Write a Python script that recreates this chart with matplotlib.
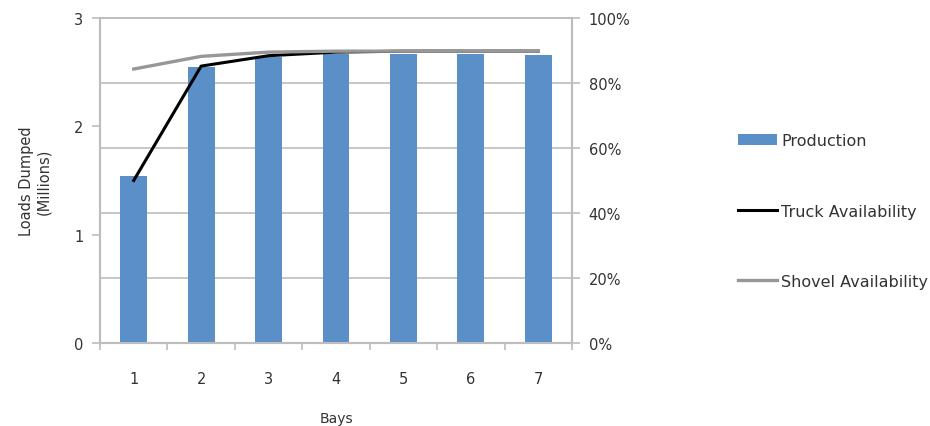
import numpy as np
import matplotlib.pyplot as plt
from matplotlib.patches import Patch
from matplotlib.lines import Line2D

plt.rcParams['font.family'] = 'DejaVu Sans'

# Data
bays = [1, 2, 3, 4, 5, 6, 7]
production = [1.54, 2.545, 2.64, 2.67, 2.67, 2.67, 2.66]   # millions of loads
truck_avail = [0.50, 0.852, 0.884, 0.895, 0.898, 0.898, 0.898]
shovel_avail = [0.843, 0.882, 0.895, 0.898, 0.898, 0.898, 0.898]
right_ticks = [0, 0.2, 0.4, 0.6, 0.8, 1.0]
right_labels = ['0%', '20%', '40%', '60%', '80%', '100%']

bar_color = '#5B8FC7'
axis_color = '#BDBDBD'
text_color = '#333333'

fig = plt.figure(figsize=(9.3, 4.27), dpi=100)
ax = fig.add_axes([100 / 930, 1 - 344 / 427, 472 / 930, 325 / 427])
ax2 = ax.twinx()

x = np.array(bays)
ax.bar(x, production, width=0.4, color=bar_color, zorder=3)
ax.set_xlim(0.5, 7.5)
ax.set_ylim(0, 3)

# gridlines follow the percentage axis but sit behind the bars
ax.set_yticks([0, 1, 2, 3])
ax.set_yticks([t * 3 for t in right_ticks[1:]], minor=True)
ax.grid(True, which='minor', axis='y', color=axis_color, lw=1.2, zorder=0)
ax.tick_params(axis='y', which='minor', length=0)
ax.tick_params(axis='y', which='major', direction='out', length=6,
               color=axis_color, width=1.2, labelsize=10.5, labelcolor=text_color, pad=6)

# x ticks between categories, labels centred
ax.set_xticks(np.arange(0.5, 8, 1))
ax.set_xticklabels([])
ax.set_xticks(x, minor=True)
ax.set_xticklabels([str(b) for b in bays], minor=True)
ax.tick_params(axis='x', which='major', direction='out', length=5,
               color=axis_color, width=1.2)
ax.tick_params(axis='x', which='minor', length=0, labelsize=10.5,
               labelcolor=text_color, pad=20)

ax2.plot(x, truck_avail, color='black', lw=2.2, zorder=3)
ax2.plot(x, shovel_avail, color='#979797', lw=2.4, zorder=4)
ax2.set_ylim(0, 1)
ax2.set_yticks(right_ticks)
ax2.set_yticklabels(right_labels)
ax2.tick_params(axis='y', direction='out', length=6, color=axis_color,
                width=1.2, labelsize=10.5, labelcolor=text_color, pad=6)

for a in (ax, ax2):
    a.spines['top'].set_color(axis_color)
    a.spines['top'].set_linewidth(1.2)
    for s in ('left', 'right', 'bottom'):
        a.spines[s].set_color(axis_color)
        a.spines[s].set_linewidth(1.5)

ax.set_xlabel('Bays', fontsize=10, color=text_color, labelpad=18)
ax.set_ylabel('Loads Dumped\n(Millions)', fontsize=10.5, color=text_color, labelpad=16)

handles = [
    Patch(facecolor=bar_color, edgecolor='none'),
    Line2D([], [], color='black', lw=2.2),
    Line2D([], [], color='#979797', lw=2.4),
]
fig.legend(handles, ['Production', 'Truck Availability', 'Shovel Availability'],
           loc='center left', bbox_to_anchor=(738 / 930, 1 - 212 / 427),
           frameon=False, fontsize=11.5, labelcolor=text_color,
           handlelength=2.45, handletextpad=0.25, labelspacing=3.45,
           borderpad=0, borderaxespad=0)

fig.savefig('out.png', dpi=100)
